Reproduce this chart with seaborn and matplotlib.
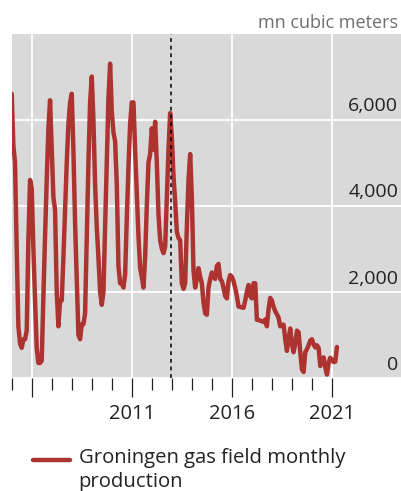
import numpy as np
import pandas as pd
import matplotlib
matplotlib.use("Agg")
import matplotlib.pyplot as plt
import matplotlib.transforms as mtransforms
import seaborn as sns

# ---- data (mn cubic meters, monthly, Jan 2005 - Apr 2021) ----
start_year = 2005
prod_2005 = [6600, 5400, 5000, 3000, 1200, 800, 700, 900, 900, 1100, 3200, 4600]
prod_2006 = [4400, 3000, 1800, 700, 350, 350, 400, 1900, 3300, 4600, 5800, 6450]
prod_2007 = [5300, 4200, 3900, 2000, 1200, 1800, 1800, 2800, 3900, 5000, 5900, 6400]
prod_2008 = [6600, 5300, 3600, 2300, 1000, 900, 1250, 1250, 1500, 3200, 5000, 6400]
prod_2009 = [7000, 6000, 4500, 3500, 2800, 2000, 1700, 2000, 3500, 5000, 6500, 7300]
prod_2010 = [6200, 5700, 5500, 4500, 2600, 2200, 2200, 2100, 2400, 3700, 4900, 5900]
prod_2011 = [6400, 6400, 5300, 4300, 3300, 2550, 2350, 2100, 2800, 4000, 5000, 5200]
prod_2012 = [5800, 5300, 5950, 5000, 3800, 3200, 3000, 2900, 3050, 4200, 5300, 6150]
prod_2013 = [5600, 4700, 4100, 3400, 3250, 3200, 2200, 2070, 2200, 3500, 4600, 5200]
prod_2014 = [4200, 2500, 2100, 2300, 2550, 2350, 2200, 1750, 1500, 1470, 2100, 2300]
prod_2015 = [2450, 2350, 2300, 2600, 2650, 2300, 2250, 2100, 1900, 1850, 2250, 2390]
prod_2016 = [2350, 2250, 2090, 1900, 1660, 1650, 1640, 1630, 1800, 2000, 2160, 1900]
prod_2017 = [1850, 2200, 2200, 1350, 1350, 1330, 1320, 1300, 1360, 1200, 1600, 1860]
prod_2018 = [1800, 1650, 1550, 1480, 1400, 1200, 1220, 1240, 900, 630, 900, 1150]
prod_2019 = [800, 600, 800, 1100, 1060, 600, 200, 140, 600, 670, 760, 870]
prod_2020 = [900, 780, 710, 760, 700, 280, 400, 480, 250, 80, 350, 470]
prod_2021 = [420, 370, 380, 720]

series_label = "Groningen gas field monthly\nproduction"
units_label = "mn cubic meters"
y_ticks = [0, 2000, 4000, 6000]
y_tick_labels = ["0", "2,000", "4,000", "6,000"]
x_major_ticks = [2006, 2011, 2016, 2021]
x_major_labels = ["", "2011", "2016", "2021"]
x_minor_ticks = list(range(2005, 2022))
marker_date = 2012.96

values = (prod_2005 + prod_2006 + prod_2007 + prod_2008 + prod_2009 + prod_2010 +
          prod_2011 + prod_2012 + prod_2013 + prod_2014 + prod_2015 + prod_2016 +
          prod_2017 + prod_2018 + prod_2019 + prod_2020 + prod_2021)
months = np.arange(len(values))
df = pd.DataFrame({"date": start_year + months / 12.0, "production": values,
                   "series": series_label})

# ---- style ----
sns.set_theme(style="white")
plt.rcParams["font.family"] = ["Open Sans", "DejaVu Sans"]

W, H = 401, 491
fig = plt.figure(figsize=(W / 100, H / 100), dpi=100)
left, right, top, bottom = 11.7, 401, 33.5, 378
ax = fig.add_axes([left / W, 1 - bottom / H, (right - left) / W, (bottom - top) / H])
ax.set_facecolor("#d9d9d9")

line_color = "#ad3330"
sns.lineplot(data=df, x="date", y="production", hue="series",
             palette=[line_color], linewidth=3.2, ax=ax, legend=False)

ax.axvline(marker_date, color="black", linestyle=(0, (2.5, 2.5)), linewidth=1.1, zorder=3)

ax.set_xlim(2005, 2024.45)
ax.set_ylim(44, 8000)

for s in ax.spines.values():
    s.set_visible(False)

# x axis
ax.set_xticks(x_major_ticks)
ax.set_xticklabels(x_major_labels)
ax.set_xticks(x_minor_ticks, minor=True)
ax.tick_params(axis="x", which="both", bottom=True)
ax.tick_params(axis="x", which="major", direction="out", length=14, width=0.9,
               color="#222222", labelsize=14.5, labelcolor="#222222", pad=5)
ax.tick_params(axis="x", which="minor", direction="out", length=8.4, width=0.9,
               color="#222222")
ax.xaxis.grid(True, which="major", color="white", linewidth=1.3)

# y axis on the right, labels inside, above gridlines
ax.yaxis.tick_right()
ax.set_yticks(y_ticks)
ax.set_yticklabels(y_tick_labels)
ax.tick_params(axis="y", which="major", length=0, labelsize=14, labelcolor="#222222",
               pad=-2)
ax.yaxis.grid(True, color="white", linewidth=1.3)
offset = mtransforms.ScaledTranslation(0, 11 / 72, fig.dpi_scale_trans)
for lab in ax.get_yticklabels():
    lab.set_horizontalalignment("right")
    lab.set_transform(lab.get_transform() + offset)

ax.set_xlabel("")
ax.set_ylabel("")
ax.set_axisbelow(True)

# units
fig.text(398 / W, 1 - 28 / H, units_label, ha="right", va="baseline",
         fontsize=13, color="#6e6e6e")

# legend
handle = plt.Line2D([], [], color=line_color, linewidth=3.2)
leg = fig.legend([handle], [series_label], loc="upper left",
                 bbox_to_anchor=(33 / W, 1 - 448 / H), frameon=False,
                 fontsize=14.6, handlelength=1.8, handletextpad=0.45,
                 labelspacing=0.2, borderaxespad=0, borderpad=0)
for t in leg.get_texts():
    t.set_color("#222222")
    t.set_linespacing(1.3)
# put the legend line next to the first text line
for ln in leg.get_lines():
    yd = np.asarray(ln.get_ydata(), dtype=float)
    ln.set_ydata(yd + 7.5)

fig.savefig("out.png", dpi=100)
